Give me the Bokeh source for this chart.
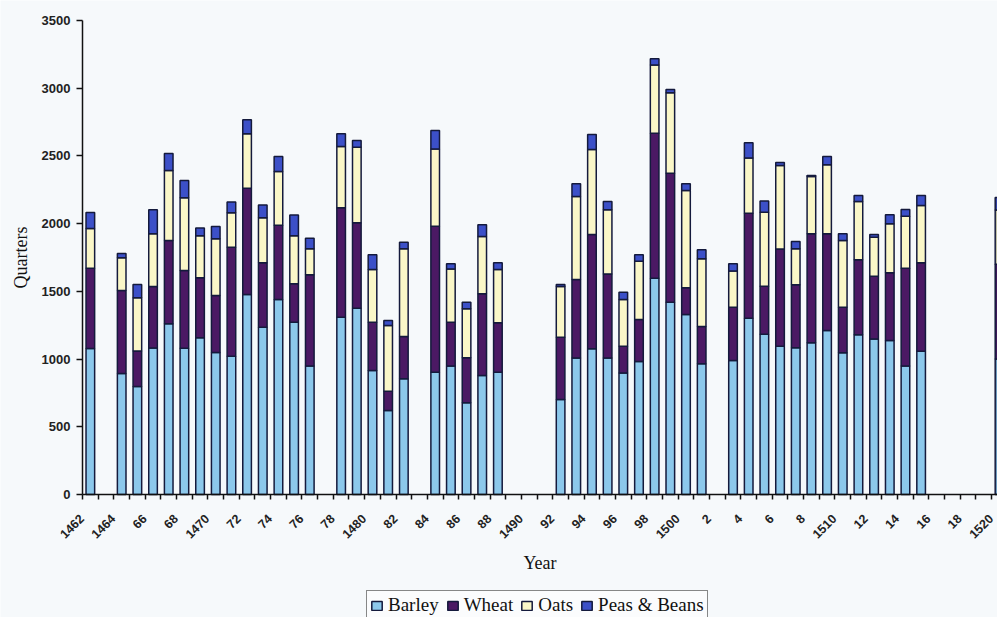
import math
from bokeh.plotting import figure
from bokeh.models import ColumnDataSource, Range1d, FixedTicker, Legend, LegendItem
from bokeh.embed import file_html
from bokeh.resources import INLINE

# ---- data (quarters per year) ----
years = [1462, 1464, 1465, 1466, 1467, 1468, 1469, 1470, 1471, 1472, 1473, 1474, 1475, 1476,
         1478, 1479, 1480, 1481, 1482, 1484, 1485, 1486, 1487, 1488,
         1492, 1493, 1494, 1495, 1496, 1497, 1498, 1499, 1500, 1501,
         1503, 1504, 1505, 1506, 1507, 1508, 1509, 1510, 1511, 1512, 1513, 1514, 1515, 1520]
barley = [1078, 893, 797, 1082, 1260, 1079, 1158, 1048, 1020, 1477, 1235, 1440, 1271, 948,
          1309, 1376, 916, 620, 854, 903, 948, 677, 879, 903,
          701, 1007, 1076, 1007, 898, 982, 1597, 1420, 1329, 965,
          989, 1302, 1184, 1095, 1083, 1120, 1211, 1046, 1179, 1149, 1137, 948, 1058, 1000]
wheat = [592, 613, 263, 454, 616, 575, 442, 421, 805, 784, 477, 548, 285, 674,
         808, 630, 356, 143, 313, 1078, 324, 332, 603, 365,
         461, 580, 844, 622, 197, 310, 1071, 953, 197, 275,
         394, 775, 353, 717, 465, 805, 714, 337, 554, 463, 500, 723, 653, 700]
oats = [294, 242, 392, 390, 516, 537, 310, 420, 256, 403, 332, 397, 355, 192,
        453, 559, 389, 485, 647, 571, 394, 362, 423, 393,
        374, 613, 627, 473, 345, 431, 504, 593, 719, 500,
        267, 408, 548, 617, 266, 423, 509, 492, 430, 288, 362, 384, 423, 400]
peas = [118, 31, 99, 177, 126, 127, 58, 90, 79, 103, 94, 111, 153, 79,
        93, 49, 109, 37, 49, 136, 37, 49, 86, 50,
        15, 94, 111, 61, 54, 47, 45, 24, 49, 67,
        53, 112, 83, 23, 54, 8, 62, 50, 45, 20, 66, 49, 74, 93]

series = ["Barley", "Wheat", "Oats", "Peas & Beans"]
tick_years = list(range(1462, 1521, 2))
tick_labels = ["1462", "1464", "66", "68", "1470", "72", "74", "76", "78", "1480",
               "82", "84", "86", "88", "1490", "92", "94", "96", "98", "1500",
               "2", "4", "6", "8", "1510", "12", "14", "16", "18", "1520"]
y_ticks = [0, 500, 1000, 1500, 2000, 2500, 3000, 3500]

colors = ["#8cc8eb", "#4b1964", "#faf7c8", "#3c50c8"]
outline = "#141a3c"
bg = "#f6f9fb"

src = ColumnDataSource(dict(year=years, b=barley, w=wheat, o=oats, p=peas))

# Whole canvas is the frame; axes are pinned inside it.
W, H = 997, 617
AX_X, AX_Y0, AX_Y1 = 82, 494, 20          # pixel positions of y-axis, value 0, value 3500
x_lo = 1461.5
sx = (999 - AX_X) / (1520.0 - x_lo)        # px per year (1520 centred just off the right edge)
x_hi = x_lo + (W - AX_X) / sx
sy = (AX_Y0 - AX_Y1) / 3500.0
x_start = x_lo - AX_X / sx
y_start = -(H - AX_Y0) / sy
y_end = 3500 + AX_Y1 / sy

p = figure(width=W, height=H,
           x_range=Range1d(x_start, x_hi), y_range=Range1d(y_start, y_end),
           output_backend="svg", toolbar_location=None,
           min_border_left=0, min_border_top=0, min_border_right=0, min_border_bottom=0,
           background_fill_color=bg, border_fill_color=bg)

rs = p.vbar_stack(["b", "w", "o", "p"], x="year", width=0.55, source=src,
                  fill_color=colors, line_color=outline, line_width=1.5)

p.grid.visible = False
p.outline_line_color = None

# label anchors sit a little left of the category centre (rotated labels end left of the bar)
label_pos = [y - 0.55 for y in tick_years]

xa = p.xaxis[0]
xa.fixed_location = 0
xa.bounds = (x_lo, x_hi)
xa.ticker = FixedTicker(ticks=label_pos, minor_ticks=[y - 0.5 for y in range(1462, 1521)])
xa.major_label_overrides = {t: l for t, l in zip(label_pos, tick_labels)}
xa.major_label_orientation = math.pi / 4
xa.major_tick_out = 5
xa.major_tick_in = 0
xa.major_tick_line_color = None
xa.minor_tick_out = 5
xa.minor_tick_in = 0
xa.minor_tick_line_color = "#111111"
xa.minor_tick_line_width = 1.5
xa.axis_line_color = "#111111"
xa.axis_line_width = 1.5
xa.major_label_standoff = 17
xa.major_label_text_font = "Liberation Sans"
xa.major_label_text_font_size = "12.5px"
xa.major_label_text_font_style = "bold"
xa.major_label_text_color = "#222222"
xa.axis_label = "Year"
xa.axis_label_text_font = "Liberation Serif"
xa.axis_label_text_font_size = "18px"
xa.axis_label_text_font_style = "normal"
xa.axis_label_text_color = "#111111"
xa.axis_label_standoff = 7

ya = p.yaxis[0]
ya.fixed_location = x_lo
ya.bounds = (0, 3500)
ya.ticker = FixedTicker(ticks=y_ticks)
ya.major_tick_out = 6
ya.major_tick_in = 0
ya.minor_tick_line_color = None
ya.major_tick_line_color = "#111111"
ya.major_tick_line_width = 1.5
ya.axis_line_color = "#111111"
ya.axis_line_width = 1.5
ya.major_label_standoff = 6
ya.major_label_text_font = "Liberation Sans"
ya.major_label_text_font_size = "13px"
ya.major_label_text_font_style = "bold"
ya.major_label_text_color = "#222222"
ya.axis_label = "Quarters"
ya.axis_label_text_font = "Liberation Serif"
ya.axis_label_text_font_size = "18px"
ya.axis_label_text_font_style = "normal"
ya.axis_label_text_color = "#111111"
ya.axis_label_standoff = 8

legend = Legend(items=[LegendItem(label=s, renderers=[r]) for s, r in zip(series, rs)],
                location=(366, -3), orientation="horizontal",
                label_text_font="Liberation Serif", label_text_font_size="19px",
                label_text_color="#111111",
                glyph_width=13, glyph_height=11, label_standoff=5, spacing=7,
                padding=3, margin=0,
                border_line_color="#111111", border_line_width=1.2,
                background_fill_color="#fbfcfd", background_fill_alpha=1.0)
p.add_layout(legend)

open("out.html", "w").write(file_html(p, INLINE))
